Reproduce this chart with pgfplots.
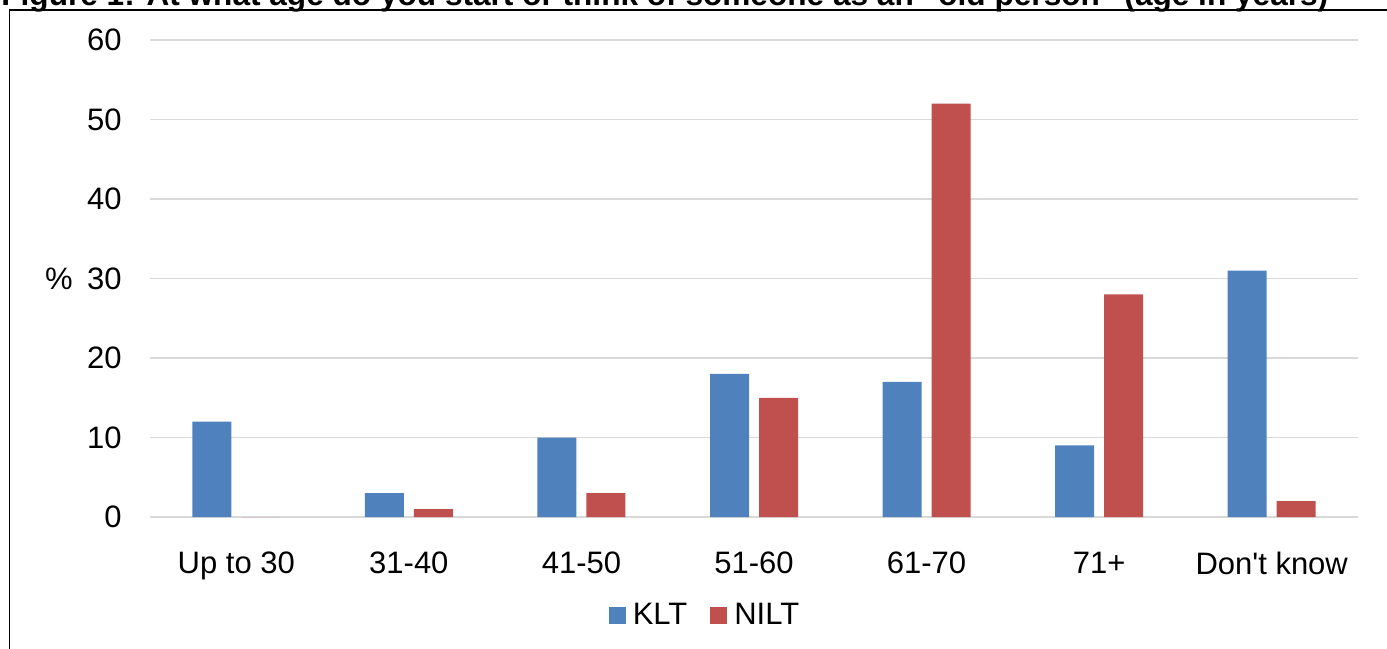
\documentclass[border=0pt]{standalone}
\usepackage{fontspec}
\setmainfont{Liberation Sans}
\usepackage{pgfplots}
\pgfplotsset{compat=1.18}
\definecolor{klt}{HTML}{4F81BD}
\definecolor{nilt}{HTML}{C0504D}
\definecolor{gridgray}{HTML}{D9D9D9}
\newcommand{\lbl}{\fontsize{15.5pt}{18pt}\selectfont}
\begin{document}
\begin{tikzpicture}
% page is the cropped figure, 1387x648 px at 0.5pt per px
\path[use as bounding box] (0pt,0pt) rectangle (693.5pt,-324pt);
\clip (0pt,0pt) rectangle (693.5pt,-324pt);
\node[anchor=base west, inner sep=0pt, font=\fontsize{15.8pt}{18pt}\selectfont\bfseries]
  at (0.5pt,-2.5pt) {Figure 1: At what age do you start or think of someone as an "old person" (age in years)};
\draw[line width=0.7pt] (4.6pt,-400pt) -- (4.6pt,-5pt) -- (750pt,-5pt);
\begin{axis}[
  at={(75pt,-258.5pt)}, anchor=south west,
  scale only axis, width=604pt, height=238.5pt,
  ymin=0, ymax=60, ytick={0,10,...,60},
  xmin=-0.5, xmax=6.5, xtick={0,...,6},
  xticklabels={Up to 30, 31-40, 41-50, 51-60, 61-70, 71+, Don\textquotesingle t know},
  ybar, bar width=19.5pt,
  ymajorgrids, grid style={gridgray, line width=0.75pt},
  axis line style={draw=none}, tick style={draw=none},
  tick label style={font=\lbl},
  /pgf/number format/assume math mode=true,
  yticklabel style={inner sep=0pt, xshift=-14pt},
  xticklabel style={inner sep=0pt, yshift=-13pt},
  ylabel={\%},
  ylabel style={at={(ticklabel cs:0.5)}, rotate=-90, anchor=east, inner sep=0pt, xshift=-7pt, font=\lbl},
  legend style={at={(axis description cs:0.4586,-0.2055)}, anchor=center, draw=none,
    legend columns=2, font=\lbl, nodes={inner sep=0pt, anchor=west},
    /tikz/every odd column/.append style={column sep=3.5pt},
    /tikz/every even column/.append style={column sep=11.5pt}},
  legend image code/.code={\fill[#1] (0pt,-4.25pt) rectangle (8.5pt,4.25pt);},
]
\addplot[fill=klt, draw=none, bar shift=-12.25pt] coordinates
  {(0,12) (1,3) (2,10) (3,18) (4,17) (5,9) (6,31)};
\addplot[fill=nilt, draw=none, bar shift=12.25pt] coordinates
  {(0,0) (1,1) (2,3) (3,15) (4,52) (5,28) (6,2)};
\legend{KLT, NILT}
\end{axis}
\end{tikzpicture}
\end{document}
